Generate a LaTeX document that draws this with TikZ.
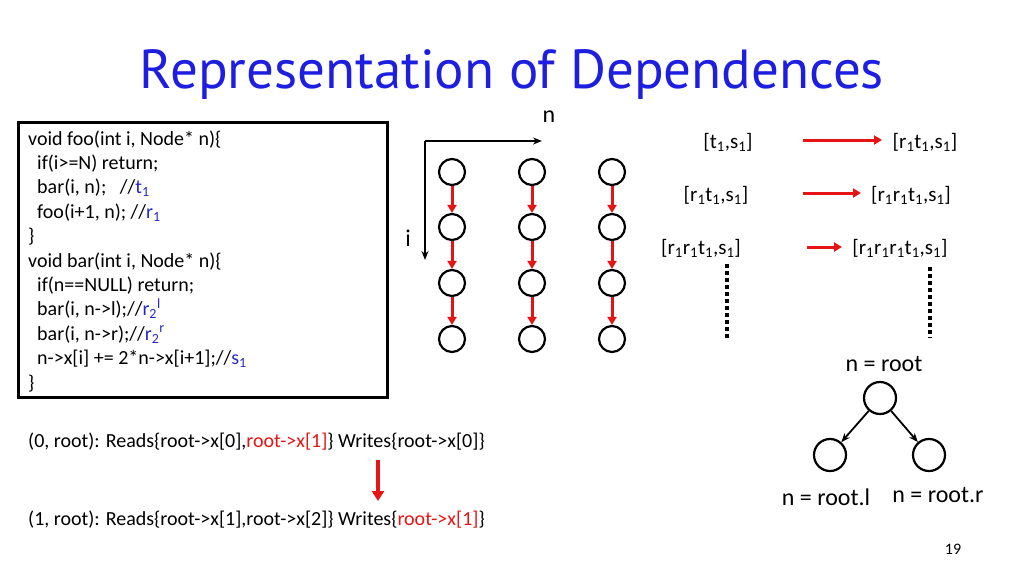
\documentclass[tikz,border=0pt]{standalone}
\usepackage{fontspec}
\setmainfont{Carlito}
\newfontfamily\titlefont{PT Sans}
\usetikzlibrary{arrows.meta}
\definecolor{tblue}{RGB}{30,30,225}
\definecolor{cblue}{RGB}{40,40,200}
\definecolor{ared}{RGB}{230,20,20}
\begin{document}
\begin{tikzpicture}[x=1pt,y=-1pt,
  txt/.style={font=\fontsize{20}{22}\selectfont,inner sep=0pt},
  circ/.style={draw,circle,line width=2.2pt,minimum size=26pt,inner sep=0pt},
  rarr/.style={ared,line width=3pt,-{Triangle[length=8pt,width=9pt]}},
  barr/.style={line width=1.8pt,-{Stealth[length=9pt,width=7pt]}}]
\useasboundingbox (0,0) rectangle (1024,576);
\node[font=\titlefont\fontsize{55}{58}\selectfont,text=tblue] (title) at (512,75) {Representation of Dependences};
% code box
\draw[line width=3pt] (18,122) rectangle (387,397);
\newcommand{\cb}[1]{\textcolor{cblue}{#1}}
\foreach \t [count=\k] in {
 {void foo(int i, Node* n)\{},
 {\ \ if(i>=N) return;},
 {\ \ bar(i, n);\ \ \ //\cb{t\textsubscript{1}}},
 {\ \ foo(i+1, n); //\cb{r\textsubscript{1}}},
 {\}},
 {void bar(int i, Node* n)\{},
 {\ \ if(n==NULL) return;},
 {\ \ bar(i, n->l);//\cb{r\textsubscript{2}\textsuperscript{l}}},
 {\ \ bar(i, n->r);//\cb{r\textsubscript{2}\textsuperscript{r}}},
 {\ \ n->x[i] += 2*n->x[i+1];//\cb{s\textsubscript{1}}},
 {\}}}
 \node[txt,anchor=base west] (c\k) at (28,{145+24.4*(\k-1)}) {\t};
% axes
\coordinate (o) at (425,141);
\coordinate (ne) at (542,141);
\coordinate (ie) at (425,260);
\draw[barr] (o) -- (ne);
\draw[barr] (o) -- (ie);
\node[font=\fontsize{24}{26}\selectfont] (nl) at (549,117) {n};
\node[font=\fontsize{24}{26}\selectfont] (il) at (408,238) {i};
% grid
\foreach \c/\x in {1/452,2/532,3/612}{
 \foreach \r/\y in {1/172,2/227,3/283,4/339}
  \node[circ] (g\c\r) at (\x,\y) {};
 \foreach \r [evaluate=\r as \s using int(\r+1)] in {1,2,3}
  \draw[rarr] (g\c\r) -- (g\c\s);
}
% right dependences
\tikzset{dep/.style={font=\fontsize{21}{24}\selectfont,inner sep=1pt}}
\node[dep] (a1) at (728,142) {[t\textsubscript{1},s\textsubscript{1}]};
\node[dep] (b1) at (925,142) {[r\textsubscript{1}t\textsubscript{1},s\textsubscript{1}]};
\node[dep] (a2) at (716,195) {[r\textsubscript{1}t\textsubscript{1},s\textsubscript{1}]};
\node[dep] (b2) at (911,195) {[r\textsubscript{1}r\textsubscript{1}t\textsubscript{1},s\textsubscript{1}]};
\node[dep] (a3) at (701,248) {[r\textsubscript{1}r\textsubscript{1}t\textsubscript{1},s\textsubscript{1}]};
\node[dep] (b3) at (900,248) {[r\textsubscript{1}r\textsubscript{1}r\textsubscript{1}t\textsubscript{1},s\textsubscript{1}]};
\coordinate (p1) at (803,140); \coordinate (q1) at (882,140);
\coordinate (p2) at (803,193); \coordinate (q2) at (861,193);
\coordinate (p3) at (807,247); \coordinate (q3) at (842,247);
\foreach \i in {1,2,3} \draw[rarr] (p\i) -- (q\i);
\coordinate (d1s) at (727,264); \coordinate (d1e) at (727,338);
\coordinate (d2s) at (930,267); \coordinate (d2e) at (930,338);
\draw[line width=4.5pt,dash pattern=on 3.5pt off 3.5pt] (d1s) -- (d1e);
\draw[line width=4.5pt,dash pattern=on 3.5pt off 3.5pt] (d2s) -- (d2e);
% tree
\node[font=\fontsize{24}{26}\selectfont] (nr) at (884,364) {n = root};
\node[circ,minimum size=32pt] (root) at (880,398) {};
\node[circ,minimum size=32pt] (lc) at (830,455) {};
\node[circ,minimum size=32pt] (rc) at (929,455) {};
\draw[barr] (root) -- (lc);
\draw[barr] (root) -- (rc);
\node[font=\fontsize{24}{26}\selectfont] (nl2) at (826,497) {n = root.l};
\node[font=\fontsize{24}{26}\selectfont] (nr2) at (938,495) {n = root.r};
% bottom
\node[txt,anchor=base west] (r0) at (28,447) {(0, root): Reads\{root->x[0],\textcolor{ared}{root->x[1]}\} Writes\{root->x[0]\}};
\node[txt,anchor=base west] (r1) at (28,525) {(1, root): Reads\{root->x[1],root->x[2]\} Writes\{\textcolor{ared}{root->x[1]}\}};
\coordinate (ba) at (378,460); \coordinate (bb) at (378,501);
\draw[rarr,line width=3.5pt,-{Triangle[length=10pt,width=12pt]}] (ba) -- (bb);
\node[font=\fontsize{16}{18}\selectfont] (pg) at (953,549) {19};
\end{tikzpicture}
\end{document}
